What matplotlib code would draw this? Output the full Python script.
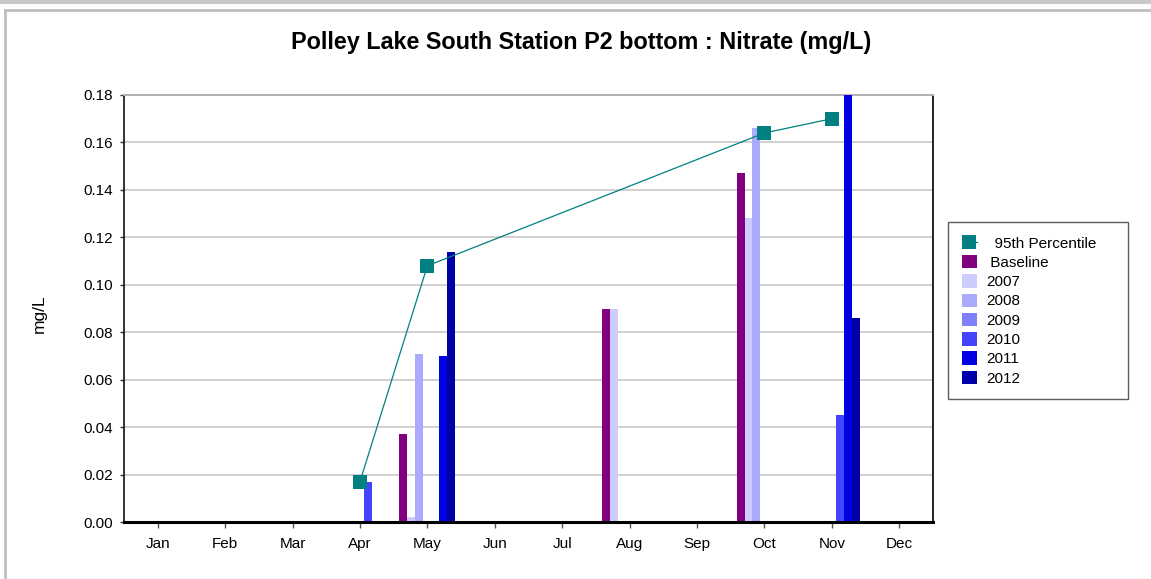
import matplotlib.pyplot as plt
import numpy as np
from matplotlib.patches import Patch
from matplotlib.lines import Line2D

plt.rcParams['font.family'] = ['Liberation Sans', 'DejaVu Sans']

months = ['Jan', 'Feb', 'Mar', 'Apr', 'May', 'Jun', 'Jul', 'Aug', 'Sep', 'Oct', 'Nov', 'Dec']

# sampling months and bar values per series (mg/L)
sample_months = ['Apr', 'May', 'Aug', 'Oct', 'Nov']
baseline = [0.0, 0.037, 0.090, 0.147, 0.0]
y2007 = [0.0, 0.002, 0.090, 0.128, 0.0]
y2008 = [0.0, 0.071, 0.0, 0.166, 0.0]
y2009 = [0.0, 0.0, 0.0, 0.0, 0.0]
y2010 = [0.017, 0.0, 0.0, 0.0, 0.045]
y2011 = [0.0, 0.070, 0.0, 0.0, 0.190]
y2012 = [0.0, 0.114, 0.0, 0.0, 0.086]

# 95th percentile line
p95_months = ['Apr', 'May', 'Oct', 'Nov']
p95 = [0.017, 0.108, 0.164, 0.170]

series_names = [' Baseline', '2007', '2008', '2009', '2010', '2011', '2012']
series_vals = [baseline, y2007, y2008, y2009, y2010, y2011, y2012]
series_cols = ['#800080', '#CCCCFF', '#AAAAFF', '#8080FF', '#4444FF', '#0000E3', '#0000A8']

fig = plt.figure(figsize=(11.51, 5.79), dpi=100)
W, H = 1151, 579
ax = fig.add_axes([124 / W, 1 - 522 / H, (933 - 124) / W, (522 - 95) / H])

xs = np.array([months.index(m) for m in sample_months])
bw = 0.1184
n = len(series_vals)
for i in range(n):
    ax.bar(xs - (n / 2) * bw + i * bw, series_vals[i], width=bw, align='edge',
           color=series_cols[i], linewidth=0, zorder=3)

px = [months.index(m) for m in p95_months]
ax.plot(px, p95, color='#008080', lw=0.9, marker='s', markersize=10.5,
        markeredgewidth=0, zorder=4, clip_on=False)

ax.set_xlim(-0.5, 11.5)
ax.set_ylim(0, 0.18)
ax.set_xticks(range(12))
ax.set_xticklabels(months)
ax.set_yticks(np.arange(0, 0.181, 0.02))
ax.set_yticklabels(['%.2f' % v for v in np.arange(0, 0.181, 0.02)])
ax.tick_params(axis='x', length=4, width=1, color='#555555', pad=6.5, labelsize=11)
ax.tick_params(axis='y', length=3, width=1, color='#333333', pad=5, labelsize=11)
ax.yaxis.grid(True, color='#C8C8C8', lw=1.2, zorder=0)
ax.set_axisbelow(True)

ax.spines['bottom'].set_linewidth(2.2)
ax.spines['bottom'].set_color('black')
ax.spines['bottom'].set_zorder(5)
ax.spines['left'].set_linewidth(1.2)
ax.spines['left'].set_color('#111111')
ax.spines['right'].set_linewidth(1.4)
ax.spines['right'].set_color('#222222')
ax.spines['top'].set_linewidth(1.4)
ax.spines['top'].set_color('#B0B0B0')

fig.text(581 / W, 1 - 43 / H, 'Polley Lake South Station P2 bottom : Nitrate (mg/L)',
         ha='center', va='center', fontsize=16.8, fontweight='bold')
fig.text(39 / W, 1 - 314 / H, 'mg/L', rotation=90, ha='center', va='center', fontsize=12.5)

handles = [Line2D([], [], color='#008080', lw=0.9, marker='s', markersize=10.5,
                  markeredgewidth=0)]
labels = ['  95th Percentile']
for name, c in zip(series_names, series_cols):
    handles.append(Patch(facecolor=c, edgecolor='none'))
    labels.append(name)
leg = ax.legend(handles, labels, loc='upper left',
                bbox_to_anchor=(948 / W, 1 - 396 / H, 180 / W, 174 / H),
                bbox_transform=fig.transFigure, mode='expand', fontsize=11,
                frameon=True, fancybox=False, borderpad=0.9, borderaxespad=0,
                handlelength=0.98, handleheight=0.98, handletextpad=0.6,
                labelspacing=0.28)
leg.get_frame().set_edgecolor('#333333')
leg.get_frame().set_linewidth(1.0)

# outer frame lines
fig.add_artist(Line2D([0, 1], [1 - 2 / H, 1 - 2 / H], color='#C8C8C8', lw=3, transform=fig.transFigure))
fig.add_artist(Line2D([5 / W, 1], [1 - 10 / H, 1 - 10 / H], color='#C0C0C0', lw=2, transform=fig.transFigure))
fig.add_artist(Line2D([5 / W, 5 / W], [0, 1 - 10 / H], color='#C0C0C0', lw=2, transform=fig.transFigure))

fig.savefig('out.png', dpi=100)
